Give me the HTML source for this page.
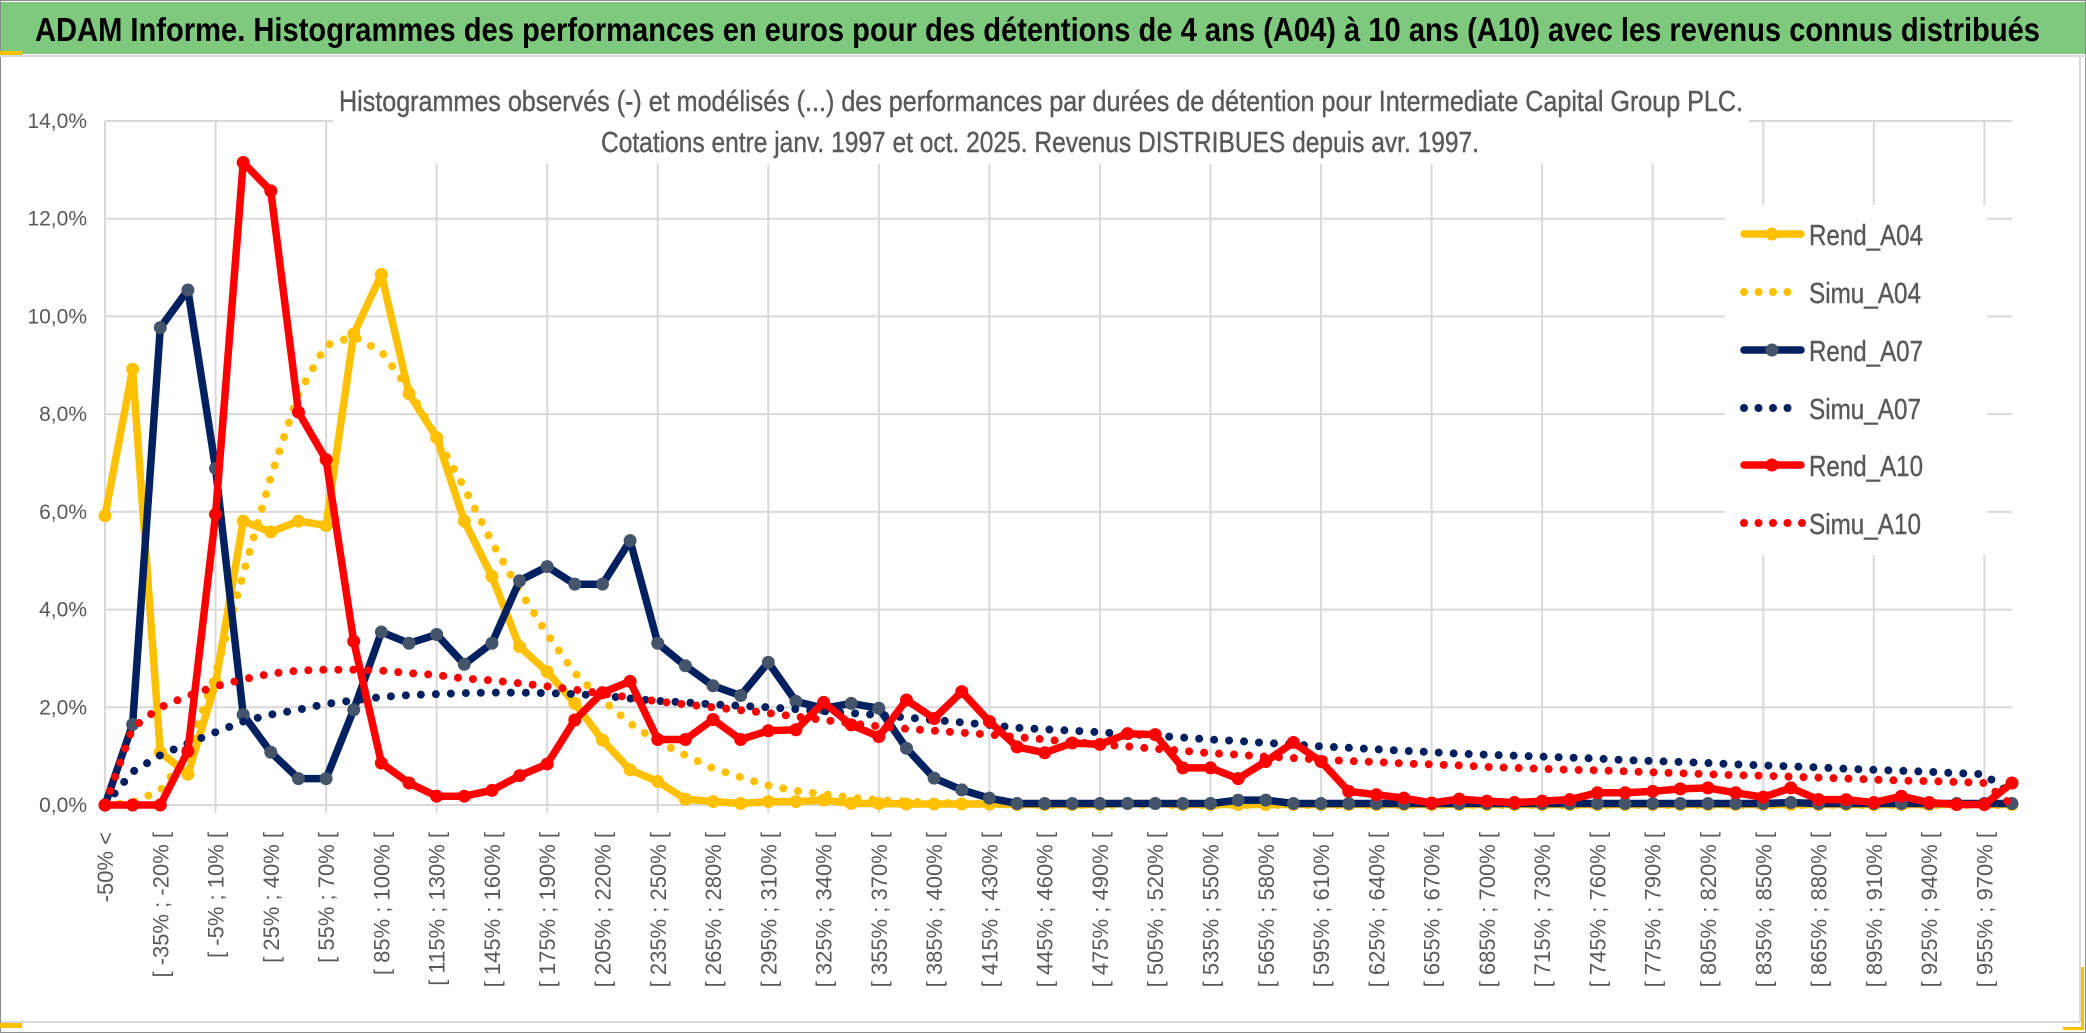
<!DOCTYPE html>
<html><head><meta charset="utf-8"><style>
html,body{margin:0;padding:0;background:#fff;}
svg{display:block;font-family:"Liberation Sans",sans-serif;}
</style></head><body>
<svg id="chart" width="2086" height="1033" viewBox="0 0 2086 1033" xmlns="http://www.w3.org/2000/svg">
<rect x="0" y="0" width="2086" height="1033" fill="#fff"/>
<rect x="0.5" y="0.5" width="2085" height="1032" fill="none" stroke="#8c8c8c" stroke-width="1"/>
<rect x="1" y="2" width="2084" height="52" fill="#7ec97e"/>
<line x1="0" y1="56" x2="2086" y2="56" stroke="#d9d9d9" stroke-width="2"/>
<rect x="0" y="51" width="22" height="4" fill="#ffc000"/>
<text x="35" y="41" font-size="33" font-weight="bold" fill="#000" textLength="2005" lengthAdjust="spacingAndGlyphs">ADAM Informe. Histogrammes des performances en euros pour des détentions de 4 ans (A04) à 10 ans (A10) avec les revenus connus distribués</text>
<line x1="1" y1="1022" x2="2080" y2="1022" stroke="#d9d9d9" stroke-width="2"/>
<line x1="2080" y1="57" x2="2080" y2="1022" stroke="#d9d9d9" stroke-width="2"/>
<rect x="0" y="1023" width="22" height="5" fill="#ffc000"/>
<rect x="2081" y="967" width="3" height="63" fill="#ffc000"/>
<rect x="2063" y="1027" width="21" height="3" fill="#ffc000"/>
<g id="grid"></g>
<rect x="333" y="80" width="1416" height="84" fill="#fff"/>
<text x="339" y="111" font-size="29" fill="#595959" stroke="#595959" stroke-width="0.4" textLength="1404" lengthAdjust="spacingAndGlyphs">Histogrammes observés (-) et modélisés (...) des performances par durées de détention pour Intermediate Capital Group PLC.</text>
<text x="601" y="152" font-size="29" fill="#595959" stroke="#595959" stroke-width="0.4" textLength="878" lengthAdjust="spacingAndGlyphs">Cotations entre janv. 1997 et oct. 2025. Revenus DISTRIBUES depuis avr. 1997.</text>
<g id="yaxis"></g>
<g id="xaxis"></g>
<g id="series"></g>
<g id="legend"></g>
</svg>
<script>
const rendA04 = [5.92,8.92,1.08,0.63,2.5,5.81,5.59,5.81,5.72,9.64,10.86,8.42,7.52,5.81,4.68,3.24,2.73,2.08,1.33,0.72,0.48,0.12,0.07,0.03,0.07,0.07,0.1,0.03,0.03,0.02,0.02,0.02,0.02,0.01,0.01,0.01,0.01,0.03,0.03,0.01,0.01,0.01,0.01,0.01,0.01,0.01,0.01,0.01,0.01,0.01,0.01,0.01,0.01,0.01,0.01,0.01,0.01,0.01,0.01,0.01,0.01,0.01,0.01,0.01,0.01,0.01,0.01,0.01,0.01,0.01];
const simuA04 = [0,0.05,0.3,1.04,2.7,4.73,6.71,8.42,9.41,9.59,9.28,8.51,7.52,6.49,5.38,4.39,3.5,2.7,2.15,1.67,1.30,1.02,0.75,0.57,0.40,0.29,0.22,0.15,0.10,0.07,0.05,0.03,0.02,0.01,0,0,0,0,0,0,0,0,0,0,0,0,0,0,0,0,0,0,0,0,0,0,0,0,0,0,0,0,0,0,0,0,0,0,0,0];
const rendA07 = [0,1.65,9.77,10.54,6.89,1.85,1.08,0.54,0.54,1.95,3.54,3.31,3.49,2.88,3.31,4.59,4.88,4.52,4.52,5.41,3.31,2.85,2.44,2.24,2.92,2.12,1.98,2.08,1.98,1.16,0.55,0.31,0.14,0.03,0.03,0.03,0.03,0.03,0.03,0.03,0.03,0.1,0.1,0.03,0.03,0.03,0.03,0.03,0.03,0.03,0.03,0.03,0.03,0.03,0.03,0.03,0.03,0.03,0.03,0.03,0.03,0.05,0.03,0.03,0.03,0.03,0.03,0.03,0.03,0.03];
const simuA07 = [0,0.68,1.02,1.26,1.49,1.71,1.85,1.95,2.07,2.14,2.21,2.25,2.27,2.29,2.30,2.30,2.29,2.27,2.24,2.18,2.13,2.10,2.06,2.03,2.0,1.96,1.92,1.88,1.84,1.79,1.74,1.69,1.64,1.58,1.55,1.52,1.49,1.45,1.42,1.38,1.34,1.31,1.27,1.24,1.20,1.17,1.14,1.11,1.08,1.05,1.03,1.01,0.99,0.97,0.95,0.92,0.90,0.88,0.86,0.83,0.81,0.79,0.77,0.74,0.72,0.70,0.68,0.65,0.63,0.2];
const rendA10 = [0,0,0,1.10,5.95,13.15,12.57,8.04,7.07,3.35,0.86,0.45,0.18,0.18,0.30,0.6,0.84,1.74,2.30,2.53,1.34,1.34,1.75,1.34,1.52,1.54,2.10,1.64,1.40,2.15,1.77,2.32,1.71,1.19,1.07,1.27,1.24,1.46,1.44,0.76,0.76,0.54,0.89,1.28,0.89,0.28,0.21,0.14,0.04,0.12,0.08,0.05,0.08,0.11,0.25,0.25,0.28,0.33,0.35,0.25,0.16,0.35,0.11,0.11,0.05,0.18,0.05,0.01,0.01,0.45];
const simuA10 = [0,1.58,2.0,2.23,2.43,2.57,2.69,2.75,2.77,2.77,2.75,2.70,2.66,2.59,2.55,2.49,2.43,2.36,2.28,2.20,2.12,2.06,2.00,1.94,1.88,1.81,1.74,1.67,1.61,1.56,1.52,1.48,1.44,1.39,1.34,1.29,1.24,1.20,1.15,1.11,1.06,1.03,0.99,0.96,0.93,0.90,0.88,0.85,0.83,0.81,0.78,0.76,0.74,0.72,0.71,0.69,0.67,0.65,0.63,0.61,0.60,0.58,0.56,0.54,0.52,0.50,0.49,0.47,0.45,0.0];
const yTicks = [0,2,4,6,8,10,12,14];
const yTickLabels = ["0,0%","2,0%","4,0%","6,0%","8,0%","10,0%","12,0%","14,0%"];
const categories = ["-50% <"];
for (let lo = -50; lo <= 970; lo += 15) { categories.push("[ " + lo + "% ; " + (lo + 15) + "% ["); }

const NS = "http://www.w3.org/2000/svg";
const X0 = 105, X1 = 2012, Y0 = 805, YTOP = 121, YMAX = 14;
const n = categories.length;
function xs(i){ return X0 + i * (X1 - X0) / (n - 1); }
function ys(v){ return Y0 - v * (Y0 - YTOP) / YMAX; }
function mk(tag, attrs, parent){ const e = document.createElementNS(NS, tag); for (const k in attrs) e.setAttribute(k, attrs[k]); parent.appendChild(e); return e; }

const grid = document.getElementById('grid');
yTicks.forEach(t => {
  const l = mk('line', {x1:X0, x2:X1, y1:ys(t), y2:ys(t), stroke:'#d9d9d9', 'stroke-width':2}, grid);
  
  
});
for (let i = 0; i < n; i += 4) {
  const l = mk('line', {x1:xs(i), x2:xs(i), y1:YTOP, y2:Y0 + 8, stroke:'#d9d9d9', 'stroke-width':2}, grid);
  
  
}

const yaxis = document.getElementById('yaxis');
yTicks.forEach((t, k) => {
  const tx = mk('text', {x:87, y:ys(t) + 7, 'font-size':21, fill:'#595959', 'text-anchor':'end'}, yaxis);
  tx.textContent = yTickLabels[k];
  
  
});

const xaxis = document.getElementById('xaxis');
for (let i = 0; i < n; i += 2) {
  const x = xs(i) + 8, y = 832;
  const tx = mk('text', {x:x, y:y, 'font-size':22, fill:'#595959', 'text-anchor':'end', transform:'rotate(-90 ' + x + ' ' + y + ')'}, xaxis);
  tx.textContent = categories[i];
  
  
}

const series = document.getElementById('series');
function pts(arr){ return arr.map((v, i) => xs(i).toFixed(1) + ',' + ys(v).toFixed(1)).join(' '); }
function solid(arr, color, mcolor, name){
  const g = mk('g', {}, series);
  
  
  mk('polyline', {points:pts(arr), fill:'none', stroke:color, 'stroke-width':7.5, 'stroke-linejoin':'round', 'stroke-linecap':'round'}, g);
  arr.forEach((v, i) => {
    const c = mk('circle', {cx:xs(i), cy:ys(v), r:6.5, fill:mcolor}, g);
    
    
  });
}
function dotted(arr, color, name){
  const p = mk('polyline', {points:pts(arr), fill:'none', stroke:color, 'stroke-width':8, 'stroke-dasharray':'0 15', 'stroke-linecap':'round', 'stroke-linejoin':'round'}, series);
  
  
}
solid(rendA04, '#ffc000', '#ffc000', 'rend-a04-line');
dotted(simuA04, '#ffc000', 'simu-a04-line');
solid(rendA07, '#002060', '#44546a', 'rend-a07-line');
dotted(simuA07, '#002060', 'simu-a07-line');
solid(rendA10, '#ff0000', '#ff0000', 'rend-a10-line');
dotted(simuA10, '#ff0000', 'simu-a10-line');

const legend = document.getElementById('legend');
const lbg = mk('rect', {x:1725, y:205, width:262, height:350, fill:'#fff'}, legend);


const legItems = [
  ['Rend_A04', '#ffc000', '#ffc000', false, 234],
  ['Simu_A04', '#ffc000', null, true, 292],
  ['Rend_A07', '#002060', '#44546a', false, 350],
  ['Simu_A07', '#002060', null, true, 408],
  ['Rend_A10', '#ff0000', '#ff0000', false, 465],
  ['Simu_A10', '#ff0000', null, true, 523]
];
legItems.forEach(it => {
  const g = mk('g', {}, legend);
  
  
  const y = it[4];
  if (it[3]) {
    const cnt = it[0] === 'Simu_A10' ? 5 : 4;
    for (let k = 0; k < cnt; k++) mk('circle', {cx:1744 + k * 14.5, cy:y, r:4, fill:it[1]}, g);
  } else {
    mk('line', {x1:1744, x2:1801, y1:y, y2:y, stroke:it[1], 'stroke-width':7.5, 'stroke-linecap':'round'}, g);
    mk('circle', {cx:1772, cy:y, r:6.5, fill:it[2]}, g);
  }
  const tx = mk('text', {x:1809, y:y + 11, 'font-size':29, fill:'#595959', stroke:'#595959', 'stroke-width':0.4, textLength: it[3] ? 112 : 114, lengthAdjust:'spacingAndGlyphs'}, g);
  tx.textContent = it[0];
});
</script>
</body></html>
